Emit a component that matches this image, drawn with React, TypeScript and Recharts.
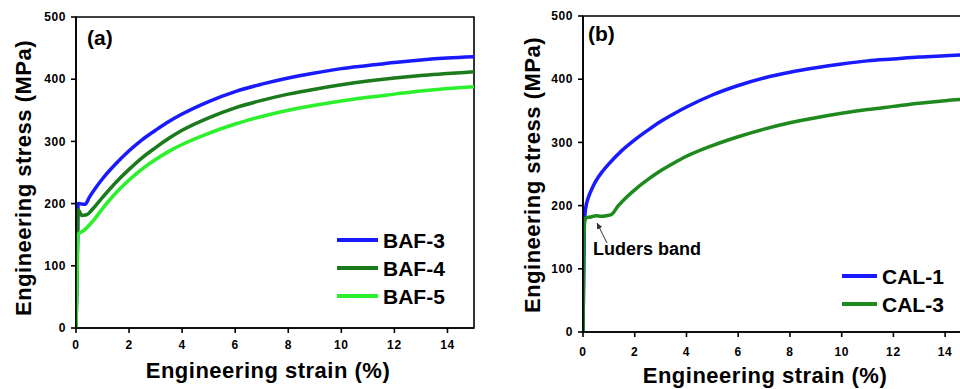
// @ts-nocheck
import React from "react";
import {
  LineChart,
  Line,
  XAxis,
  YAxis,
  Legend,
  ReferenceArea,
} from "recharts";

// strain (%) / stress (MPa)
const baf3Strain = [0, 0.05, 0.08, 0.35, 0.5, 0.75, 1, 1.5, 2, 2.5, 3, 3.5, 4, 5, 6, 7, 8, 9, 10, 11, 12, 13, 14, 15];
const baf3Stress = [0, 120, 200, 199, 210, 226, 240, 264, 285, 303, 318, 332, 344, 364, 380, 392, 402, 410, 417, 422, 427, 431, 434, 436];

const baf4Strain = [0, 0.05, 0.08, 0.15, 0.2, 0.4, 0.6, 1, 1.5, 2, 2.5, 3, 3.5, 4, 5, 6, 7, 8, 9, 10, 11, 12, 13, 14, 15];
const baf4Stress = [0, 110, 190, 186, 181, 182, 190, 210, 234, 255, 274, 290, 305, 318, 338, 354, 366, 376, 384, 391, 397, 402, 406, 409, 412];

const baf5Strain = [0, 0.04, 0.06, 0.3, 0.6, 1, 1.5, 2, 2.5, 3, 3.5, 4, 5, 6, 7, 8, 9, 10, 11, 12, 13, 14, 15];
const baf5Stress = [0, 90, 150, 157, 170, 192, 217, 238, 256, 271, 284, 295, 313, 328, 340, 350, 358, 365, 371, 376, 381, 385, 388];

const cal1Strain = [0, 0.05, 0.1, 0.2, 0.35, 0.5, 0.75, 1, 1.5, 2, 2.5, 3, 3.5, 4, 5, 6, 7, 8, 9, 10, 11, 12, 13, 14, 15];
const cal1Stress = [0, 170, 195, 212, 227, 239, 254, 266, 287, 304, 319, 333, 345, 356, 375, 390, 402, 411, 418, 424, 429, 432, 435, 437, 439];

const cal3Strain = [0, 0.06, 0.12, 0.3, 0.5, 0.7, 0.9, 1.1, 1.35, 1.7, 2, 2.5, 3, 3.5, 4, 5, 6, 7, 8, 9, 10, 11, 12, 13, 14, 15];
const cal3Stress = [0, 175, 181, 182, 184, 183, 184, 186, 199, 214, 225, 241, 255, 267, 278, 295, 309, 321, 331, 339, 346, 352, 357, 362, 366, 369];

const xTicks = [0, 2, 4, 6, 8, 10, 12, 14];
const yTicks = [0, 100, 200, 300, 400, 500];

const toPoints = (xs, ys) => xs.map((x, i) => ({ x, y: ys[i] }));

const FONT = "'Liberation Sans', Arial, sans-serif";
const tickStyle = { fontSize: 12, fontWeight: "bold", fill: "#000", fontFamily: FONT, letterSpacing: 0.6 };
const axisStroke = { stroke: "#000", strokeWidth: 1.6 };

const makeLegend = (lineLen) => ({ payload }) => (
  <svg width={140} height={90}>
    {(payload || []).map((p, i) => (
      <g key={p.value}>
        <line x1={0} x2={lineLen} y1={14 + i * 28} y2={14 + i * 28} stroke={p.color} strokeWidth={4} />
        <text x={lineLen + 5} y={22 + i * 28} fontSize={21} fontWeight="bold" fontFamily={FONT} fill="#000">
          {p.value}
        </text>
      </g>
    ))}
  </svg>
);

const Panel = ({ width, yAxisWidth, xAxisHeight, margin, tickMargin, legendPos, legendLine, series }) => (
  <LineChart width={width} height={389} margin={margin}>
    <XAxis
      type="number"
      dataKey="x"
      domain={[0, 15]}
      ticks={xTicks}
      height={xAxisHeight}
      tick={tickStyle}
      tickSize={5}
      tickMargin={tickMargin}
      axisLine={axisStroke}
      tickLine={axisStroke}
      allowDataOverflow
    />
    <YAxis
      type="number"
      dataKey="y"
      domain={[0, 500]}
      ticks={yTicks}
      width={yAxisWidth}
      tick={tickStyle}
      tickSize={5}
      tickMargin={5}
      axisLine={axisStroke}
      tickLine={axisStroke}
      allowDataOverflow
    />
    <ReferenceArea x1={0} x2={15} y1={0} y2={500} fill="none" stroke="#000" strokeWidth={1.6} />
    {series.map((s) => (
      <Line
        key={s.name}
        name={s.name}
        data={s.data}
        dataKey="y"
        type="monotone"
        stroke={s.color}
        strokeWidth={3.5}
        dot={false}
        isAnimationActive={false}
      />
    ))}
    <Legend
      layout="horizontal"
      verticalAlign="middle"
      align="center"
      content={makeLegend(legendLine)}
      wrapperStyle={{ left: legendPos[0], top: legendPos[1], width: 140, height: 90 }}
    />
  </LineChart>
);

export default function App() {
  const leftSeries = [
    { name: "BAF-3", color: "#1a1aff", data: toPoints(baf3Strain, baf3Stress) },
    { name: "BAF-4", color: "#1b7a1b", data: toPoints(baf4Strain, baf4Stress) },
    { name: "BAF-5", color: "#2cf02c", data: toPoints(baf5Strain, baf5Stress) },
  ];
  const rightSeries = [
    { name: "CAL-1", color: "#1a1aff", data: toPoints(cal1Strain, cal1Stress) },
    { name: "CAL-3", color: "#1e8a1e", data: toPoints(cal3Strain, cal3Stress) },
  ];

  const titleStyle = { fontSize: 22, fontWeight: "bold", fontFamily: FONT, letterSpacing: 0.5 };

  return (
    <div
      style={{
        position: "absolute",
        left: 0,
        top: 0,
        width: 960,
        height: 389,
        overflow: "hidden",
        background: "#fff",
        fontFamily: FONT,
      }}
    >
      <div style={{ position: "absolute", left: 0, top: 0 }}>
        <Panel
          width={480}
          yAxisWidth={76}
          xAxisHeight={61}
          margin={{ top: 17, right: 6, left: 0, bottom: 0 }}
          tickMargin={7}
          legendPos={[337, 226]}
          legendLine={41}
          series={leftSeries}
        />
      </div>
      <div style={{ position: "absolute", left: 480, top: 0 }}>
        <Panel
          width={500}
          yAxisWidth={103}
          xAxisHeight={57}
          margin={{ top: 16, right: 9, left: 0, bottom: 0 }}
          tickMargin={10}
          legendPos={[362, 262]}
          legendLine={35}
          series={rightSeries}
        />
      </div>
      <svg width={960} height={389} style={{ position: "absolute", left: 0, top: 0, pointerEvents: "none" }}>
        <defs>
          <marker id="arrowHead" markerWidth="8" markerHeight="8" refX="6" refY="4" orient="auto">
            <path d="M0,1 L6,4 L0,7 Z" fill="#333" />
          </marker>
        </defs>
        <text x={87} y={45} fontSize={21} fontWeight="bold" fontFamily={FONT}>(a)</text>
        <text x={588} y={41} fontSize={21} fontWeight="bold" fontFamily={FONT}>(b)</text>
        <text x={268} y={378} textAnchor="middle" {...titleStyle}>Engineering strain (%)</text>
        <text x={765} y={383} textAnchor="middle" {...titleStyle}>Engineering strain (%)</text>
        <text transform="translate(31,178) rotate(-90)" textAnchor="middle" {...titleStyle}>
          Engineering stress (MPa)
        </text>
        <text transform="translate(540,175) rotate(-90)" textAnchor="middle" {...titleStyle}>
          Engineering stress (MPa)
        </text>
        <line x1={607} y1={243} x2={597} y2={223} stroke="#333" strokeWidth={1} markerEnd="url(#arrowHead)" />
        <text x={593} y={255} fontSize={18} fontWeight="bold" fontFamily={FONT}>Luders band</text>
      </svg>
    </div>
  );
}
